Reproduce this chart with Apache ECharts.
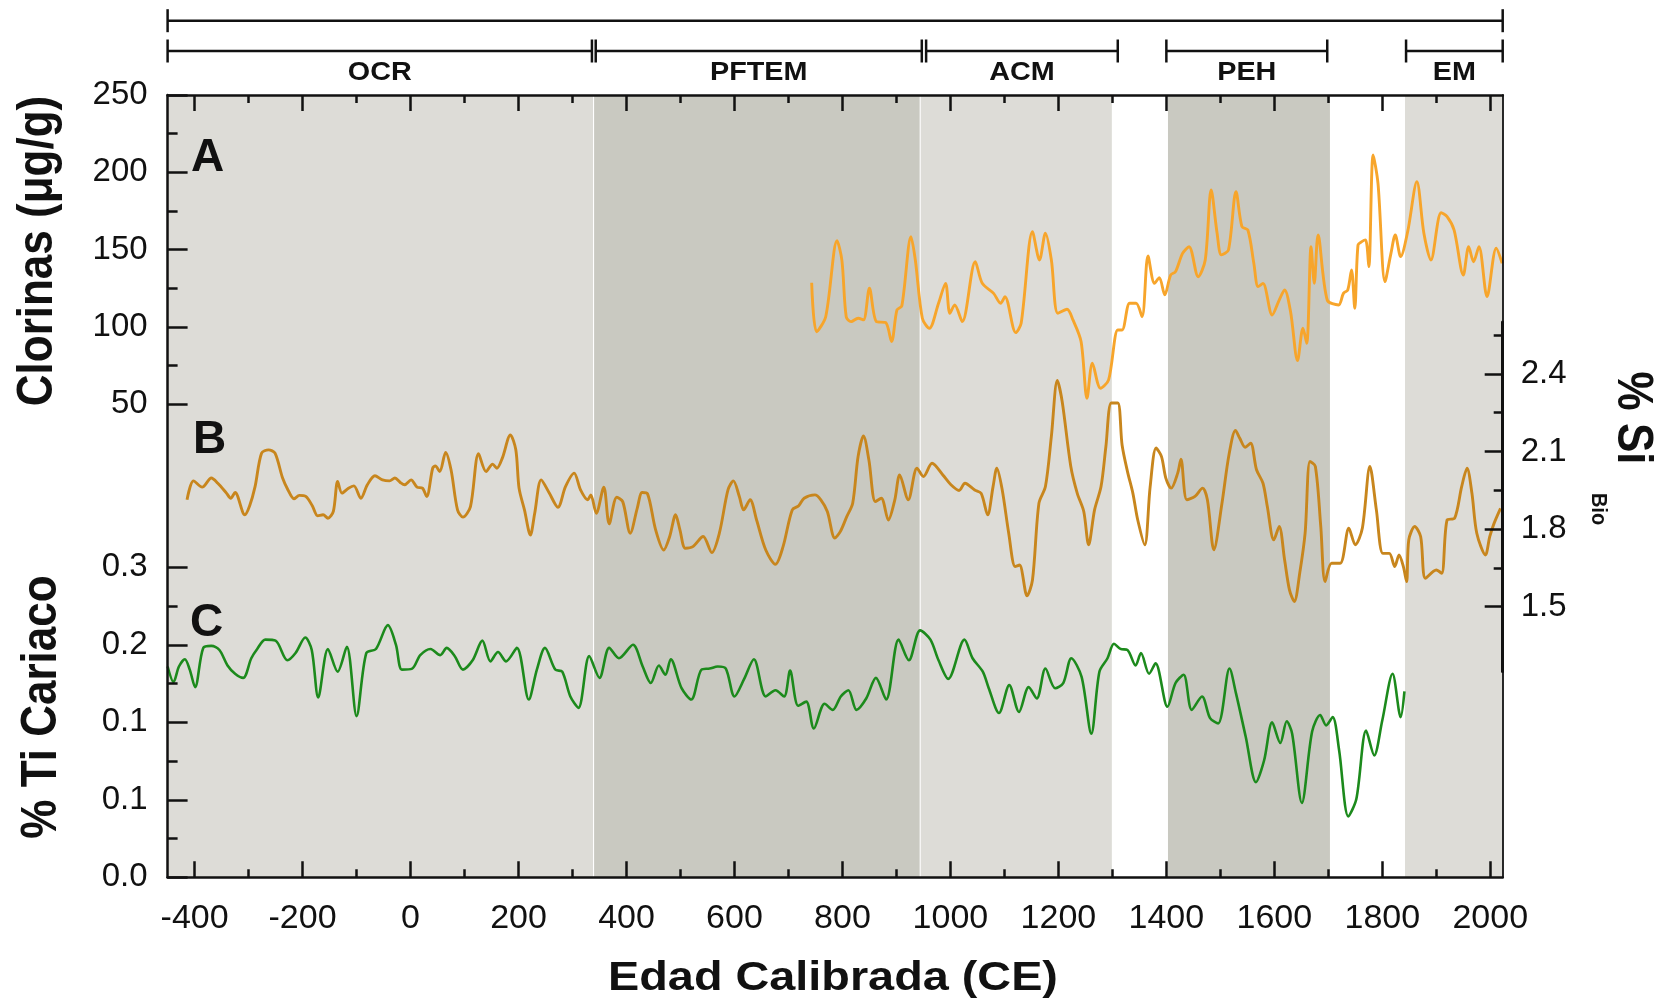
<!DOCTYPE html>
<html><head><meta charset="utf-8">
<script src="https://cdn.jsdelivr.net/npm/echarts@6/dist/echarts.min.js"></script>
<style>html,body{margin:0;padding:0;background:#fff}#c{width:1658px;height:1005px}</style>
</head><body><div id="c"></div><script>
// ---------- DATA ----------
const xMajorTicks = [-400,-200,0,200,400,600,800,1000,1200,1400,1600,1800,2000];
const xMinorTicks = [-300,-100,100,300,500,700,900,1100,1300,1500,1700,1900];
const siMajorTicks = [1.5,1.8,2.1,2.4];
const siMinorTicks = [1.65,1.95,2.25,2.55];
const tiTickLabels = ['0.0','0.1','0.1','0.2','0.3'];

const periodNames = ['OCR','PFTEM','ACM','PEH','EM'];
const periodStart = [-450, 343, 955, 1400, 1844];
const periodEnd   = [336, 947, 1310, 1698, 2023];
const bandStart = [-450, 340, 945, 1403, 1842];
const bandEnd   = [338, 943, 1299, 1703, 2023];
const bandShade = [0, 1, 0, 1, 0];

// A: Clorinas (ug/g)
const chlYears = [743,752,769,790,799,807,816,829,839,850,
  863,880,891,901,910,927,935,948,961,978,
  991,999,1008,1022,1046,1059,1080,1093,1101,1121,
  1131,1152,1165,1176,1187,1199,1216,1227,1242,1253,
  1263,1278,1293,1310,1318,1332,1344,1355,1366,1378,
  1387,1397,1408,1417,1430,1442,1459,1472,1483,1494,
  1502,1515,1529,1540,1551,1562,1570,1579,1596,1609,
  1619,1630,1643,1653,1660,1668,1674,1681,1698,1719,
  1728,1736,1743,1749,1755,1762,1769,1775,1783,1792,
  1805,1816,1824,1834,1847,1864,1877,1890,1909,1920,
  1933,1950,1960,1969,1979,1994,2011,2022];
const chlValues = [128.5,96.8,106.5,155.7,143,106.5,103.3,105.5,104.5,124.9,
  103.3,102.7,90.4,110.9,113.5,158.3,143.2,105.5,99,115.2,
  128.1,108.7,114.1,103.3,142.1,128.1,121.6,115.2,119.5,96.2,
  102.2,161.6,143.2,160.5,143.2,108.7,111.3,104.4,90.4,53.7,
  76.4,60.2,65.6,97.9,97.9,115.2,115.2,106.5,145.8,128.1,
  131.8,120.6,133.5,135.7,147.5,151.8,132.4,143.2,188.5,160.5,
  146.5,149.7,187.4,164.8,162.6,141.1,126,128.1,107.6,117.3,
  123.8,109.8,78.1,99,89.3,151.8,128.1,159.4,117.3,114.1,
  121.6,123.8,136.7,112,152.9,155.1,156.2,138.9,211.2,192.8,
  129.2,147.5,159.4,145.4,161.6,193.9,160.5,143.2,173.8,171.3,
  162.6,133.5,151.8,142.1,151.8,119.5,150.8,141.1];

// B: % Si Bio
const siYears = [-414,-402,-386,-369,-357,-341,-333,-325,-307,-298,
  -288,-276,-263,-251,-237,-227,-216,-206,-194,-182,
  -172,-162,-153,-143,-135,-127,-115,-105,-92,-80,
  -66,-52,-39,-29,-19,-11,1,12,22,30,
  41,46,54,65,75,87,97,111,126,140,
  152,160,170,185,195,201,211,222,230,242,
  257,273,287,303,315,328,334,344,358,368,
  382,393,407,420,429,439,454,469,480,491,
  499,509,523,542,558,572,588,598,609,617,
  629,641,658,676,690,707,719,729,749,760,
  772,786,796,808,819,829,839,849,861,872,
  885,897,906,922,938,950,966,986,1001,1016,
  1027,1045,1057,1069,1079,1086,1096,1108,1120,1128,
  1142,1152,1164,1176,1187,1198,1207,1223,1235,1247,
  1256,1267,1279,1288,1298,1310,1318,1328,1338,1347,
  1360,1370,1381,1391,1399,1409,1421,1427,1438,1453,
  1467,1476,1488,1503,1516,1528,1536,1546,1556,1567,
  1579,1587,1599,1609,1619,1628,1637,1647,1657,1666,
  1676,1686,1694,1706,1722,1738,1750,1763,1777,1789,
  1801,1813,1823,1831,1839,1845,1849,1860,1871,1880,
  1900,1910,1920,1934,1947,1957,1966,1975,1991,1999,
  2007,2019];
const siValues = [1.913,1.986,1.962,1.997,1.977,1.939,1.919,1.941,1.855,1.89,
  1.964,2.093,2.106,2.093,1.997,1.951,1.917,1.93,1.926,1.89,
  1.851,1.855,1.842,1.868,1.984,1.939,1.958,1.967,1.919,1.971,
  2.006,1.99,1.986,1.997,1.98,1.971,1.99,1.962,1.958,1.926,
  2.035,2.044,2.022,2.096,2.029,1.874,1.846,1.887,2.091,2.022,
  2.051,2.035,2.074,2.164,2.106,1.958,1.874,1.777,1.861,1.99,
  1.939,1.884,1.964,2.016,1.951,1.913,1.932,1.861,1.962,1.82,
  1.923,1.906,1.784,1.881,1.941,1.936,1.797,1.719,1.771,1.855,
  1.797,1.726,1.732,1.771,1.709,1.784,1.951,1.986,1.926,1.874,
  1.913,1.835,1.719,1.664,1.732,1.874,1.89,1.919,1.932,1.913,
  1.868,1.765,1.79,1.848,1.9,2.08,2.16,2.067,1.906,1.919,
  1.835,1.913,2.009,1.913,2.035,2.003,2.054,2.009,1.971,1.949,
  1.977,1.951,1.938,1.855,1.964,2.035,1.951,1.784,1.655,1.661,
  1.542,1.603,1.9,1.964,2.158,2.374,2.293,2.042,1.938,1.868,
  1.739,1.874,1.964,2.119,2.287,2.287,2.125,2.022,1.938,1.835,
  1.739,1.964,2.113,2.08,1.997,1.958,2.016,2.07,1.913,1.926,
  1.958,1.913,1.72,1.9,2.087,2.181,2.151,2.116,2.132,2.029,
  1.977,1.887,1.758,1.81,1.681,1.565,1.52,1.629,1.784,2.061,
  2.042,1.81,1.597,1.668,1.668,1.803,1.739,1.803,2.042,1.874,
  1.706,1.706,1.655,1.7,1.655,1.597,1.758,1.81,1.771,1.61,
  1.642,1.629,1.835,1.842,1.964,2.035,1.938,1.784,1.7,1.771,
  1.822,1.88];

// C: % Ti Cariaco
const tiYears = [-450,-439,-429,-418,-409,-399,-384,-369,-354,-339,
  -325,-310,-295,-284,-269,-250,-228,-213,-195,-183,
  -171,-153,-135,-118,-100,-82,-64,-42,-27,-16,
  3,18,37,55,67,82,97,115,133,148,
  162,177,197,219,234,249,268,281,296,311,
  331,350,368,386,412,430,445,460,472,482,
  502,520,539,554,569,584,600,618,636,658,
  676,692,703,718,733,747,767,782,797,811,
  826,844,862,881,904,923,944,963,978,996,
  1026,1041,1060,1071,1090,1109,1127,1145,1160,1176,
  1194,1209,1224,1243,1261,1276,1291,1303,1315,1328,
  1343,1353,1368,1380,1402,1417,1432,1447,1466,1481,
  1496,1517,1529,1547,1566,1581,1596,1611,1623,1633,
  1651,1670,1685,1696,1708,1720,1737,1752,1770,1785,
  1800,1819,1834,1841];
const tiValues = [0.204,0.189,0.204,0.211,0.201,0.184,0.222,0.224,0.22,0.205,
  0.197,0.193,0.212,0.221,0.23,0.229,0.21,0.217,0.232,0.22,
  0.174,0.221,0.199,0.223,0.156,0.217,0.221,0.244,0.225,0.201,
  0.202,0.215,0.221,0.215,0.222,0.214,0.201,0.21,0.229,0.209,
  0.218,0.209,0.222,0.172,0.201,0.222,0.201,0.199,0.175,0.164,
  0.214,0.193,0.222,0.212,0.225,0.204,0.188,0.205,0.196,0.211,
  0.183,0.172,0.201,0.202,0.204,0.202,0.175,0.192,0.211,0.175,
  0.181,0.175,0.2,0.166,0.17,0.144,0.168,0.162,0.175,0.181,
  0.162,0.173,0.193,0.172,0.23,0.21,0.239,0.23,0.21,0.192,
  0.23,0.212,0.199,0.183,0.159,0.186,0.16,0.184,0.173,0.202,
  0.183,0.188,0.212,0.194,0.139,0.199,0.212,0.226,0.221,0.22,
  0.205,0.217,0.197,0.207,0.165,0.188,0.196,0.162,0.175,0.154,
  0.149,0.202,0.178,0.136,0.092,0.113,0.15,0.13,0.151,0.139,
  0.072,0.141,0.157,0.147,0.155,0.123,0.059,0.076,0.142,0.118,
  0.152,0.197,0.155,0.18];

// ---------- CHART ----------
const X_MIN = -450, X_MAX = 2023;
const FONT = '"Liberation Sans", Arial, Helvetica, sans-serif';
const BLACK = '#111';
const bandColors = ['#dddcd7', '#c9c9c1'];
const pairs = (xs, ys) => xs.map((x, i) => [x, ys[i]]);

const L = 167.6, R = 155.3;
const grids = [
  {left: L, right: R, top: 95, bottom: 127.7},      // 0 frame
  {left: L, right: R, top: 95, bottom: 601},        // 1 clorinas 50..250
  {left: L, right: R, top: 322, bottom: 333.6},     // 2 Si 1.25..2.6
  {left: L, right: R, top: 567.3, bottom: 127.7},   // 3 Ti 0..0.3
  {left: L, right: R, top: 0, bottom: 910}          // 4 brackets
];

const axLine = (w) => ({show: true, onZero: false, lineStyle: {color: BLACK, width: w}});
const noLine = {show: false, onZero: false};
const hiddenX = (g) => ({type: 'value', gridIndex: g, min: X_MIN, max: X_MAX, show: false, axisLine: noLine, splitLine: {show: false}});

const xAxes = [
  {type: 'value', gridIndex: 0, position: 'bottom', min: X_MIN, max: X_MAX, z: 10,
    axisLine: axLine(2.5),
    axisTick: {show: true, inside: true, length: 16, customValues: xMajorTicks, lineStyle: {color: BLACK, width: 2.5}},
    axisLabel: {show: true, customValues: xMajorTicks, margin: 24, fontSize: 34, fontFamily: FONT, color: BLACK,
      formatter: v => String(v)},
    splitLine: {show: false}},
  {type: 'value', gridIndex: 0, position: 'bottom', min: X_MIN, max: X_MAX, z: 10,
    axisLine: noLine,
    axisTick: {show: true, inside: true, length: 8, customValues: xMinorTicks, lineStyle: {color: BLACK, width: 2.5}},
    axisLabel: {show: false}, splitLine: {show: false}},
  {type: 'value', gridIndex: 0, position: 'top', min: X_MIN, max: X_MAX, z: 10,
    axisLine: axLine(2.5),
    axisTick: {show: true, inside: true, length: 16, customValues: xMajorTicks, lineStyle: {color: BLACK, width: 2.5}},
    axisLabel: {show: false}, splitLine: {show: false}},
  {type: 'value', gridIndex: 0, position: 'top', min: X_MIN, max: X_MAX, z: 10,
    axisLine: noLine,
    axisTick: {show: true, inside: true, length: 8, customValues: xMinorTicks, lineStyle: {color: BLACK, width: 2.5}},
    axisLabel: {show: false}, splitLine: {show: false}},
  hiddenX(1), hiddenX(2), hiddenX(3), hiddenX(4)
];

const yAxes = [
  // 0 frame left line
  {type: 'value', gridIndex: 0, position: 'left', min: 0, max: 1, z: 10,
    axisLine: axLine(2.5), axisTick: {show: false}, axisLabel: {show: false}, splitLine: {show: false}},
  // 1 frame right line
  {type: 'value', gridIndex: 0, position: 'right', min: 0, max: 1, z: 10,
    axisLine: axLine(1.8), axisTick: {show: false}, axisLabel: {show: false}, splitLine: {show: false}},
  // 2 clorinas
  {type: 'value', gridIndex: 1, position: 'left', min: 50, max: 250, interval: 50, z: 10,
    axisLine: noLine,
    axisTick: {show: true, inside: true, length: 20, lineStyle: {color: BLACK, width: 2.5}},
    minorTick: {show: true, splitNumber: 2, length: 10, lineStyle: {color: BLACK, width: 2.5}},
    axisLabel: {show: true, margin: 20, fontSize: 33, fontFamily: FONT, color: BLACK},
    splitLine: {show: false}, minorSplitLine: {show: false}},
  // 3 Si major
  {type: 'value', gridIndex: 2, position: 'right', min: 1.25, max: 2.6, z: 10,
    axisLine: axLine(3),
    axisTick: {show: true, inside: true, length: 18, customValues: siMajorTicks, lineStyle: {color: BLACK, width: 2.5}},
    axisLabel: {show: true, customValues: siMajorTicks, margin: 18, fontSize: 33, fontFamily: FONT, color: BLACK,
      formatter: v => Number(v).toFixed(1)},
    splitLine: {show: false}},
  // 4 Si minor
  {type: 'value', gridIndex: 2, position: 'right', min: 1.25, max: 2.6, z: 10,
    axisLine: noLine,
    axisTick: {show: true, inside: true, length: 9, customValues: siMinorTicks, lineStyle: {color: BLACK, width: 2.5}},
    axisLabel: {show: false}, splitLine: {show: false}},
  // 5 Ti
  {type: 'value', gridIndex: 3, position: 'left', min: 0, max: 0.3, interval: 0.075, z: 10,
    axisLine: noLine,
    axisTick: {show: true, inside: true, length: 20, lineStyle: {color: BLACK, width: 2.5}},
    minorTick: {show: true, splitNumber: 2, length: 10, lineStyle: {color: BLACK, width: 2.5}},
    axisLabel: {show: true, margin: 20, fontSize: 33, fontFamily: FONT, color: BLACK,
      formatter: v => tiTickLabels[Math.round(v / 0.075)]},
    splitLine: {show: false}, minorSplitLine: {show: false}},
  // 6 brackets
  {type: 'value', gridIndex: 4, min: 0, max: 1, show: false, axisLine: noLine, splitLine: {show: false}}
];

function renderBand(params, api) {
  const p1 = api.coord([api.value(0), 1]);
  const p2 = api.coord([api.value(1), 0]);
  return {type: 'rect', shape: {x: p1[0], y: p1[1], width: p2[0] - p1[0], height: p2[1] - p1[1]},
    style: {fill: bandColors[api.value(2)]}};
}

function makeBracketRenderer(rowY, labels) {
  return function (params, api) {
    const x1 = api.coord([api.value(0), 0])[0];
    const x2 = api.coord([api.value(1), 0])[0];
    const h = 11.5;
    const ls = {stroke: BLACK, lineWidth: 2.5};
    const children = [
      {type: 'line', shape: {x1: x1, y1: rowY, x2: x2, y2: rowY}, style: ls},
      {type: 'line', shape: {x1: x1, y1: rowY - h, x2: x1, y2: rowY + h}, style: ls},
      {type: 'line', shape: {x1: x2, y1: rowY - h, x2: x2, y2: rowY + h}, style: ls}
    ];
    if (labels) {
      children.push({type: 'text', x: (x1 + x2) / 2, y: 73, scaleX: 1.15,
        style: {text: labels[params.dataIndex], fill: BLACK, font: 'bold 25px ' + FONT,
          textAlign: 'center', textVerticalAlign: 'middle'}});
    }
    return {type: 'group', children: children};
  };
}

const lineSeries = (name, xi, yi, data, color, w) => ({
  name: name, type: 'line', xAxisIndex: xi, yAxisIndex: yi, data: data,
  showSymbol: false, smooth: 0.3, z: 5,
  lineStyle: {color: color, width: w}, itemStyle: {color: color}
});

const option = {
  animation: false,
  backgroundColor: '#ffffff',
  grid: grids,
  xAxis: xAxes,
  yAxis: yAxes,
  series: [
    {type: 'custom', xAxisIndex: 0, yAxisIndex: 0, z: 1, clip: false, silent: true,
      data: bandStart.map((s, i) => [s, bandEnd[i], bandShade[i]]), renderItem: renderBand},
    {type: 'custom', xAxisIndex: 7, yAxisIndex: 6, z: 5, clip: false, silent: true,
      data: [[X_MIN, X_MAX]], renderItem: makeBracketRenderer(20.7, null)},
    {type: 'custom', xAxisIndex: 7, yAxisIndex: 6, z: 5, clip: false, silent: true,
      data: periodStart.map((s, i) => [s, periodEnd[i]]), renderItem: makeBracketRenderer(51, periodNames)},
    lineSeries('Clorinas', 4, 2, pairs(chlYears, chlValues), '#f7a52b', 2.9),
    lineSeries('Si Bio', 5, 3, pairs(siYears, siValues), '#c8861d', 2.9),
    lineSeries('Ti Cariaco', 6, 5, pairs(tiYears, tiValues), '#1c8a1c', 2.6)
  ],
  graphic: [
    {type: 'text', x: 38, y: 251, rotation: Math.PI / 2, scaleY: 1.15, z: 20,
      style: {text: 'Clorinas (μg/g)', font: 'bold 44px ' + FONT, fill: BLACK, textAlign: 'center', textVerticalAlign: 'middle'}},
    {type: 'text', x: 42, y: 707, rotation: Math.PI / 2, scaleY: 1.15, z: 20,
      style: {text: '% Ti Cariaco', font: 'bold 44px ' + FONT, fill: BLACK, textAlign: 'center', textVerticalAlign: 'middle'}},
    {type: 'text', x: 1632, y: 418, rotation: -Math.PI / 2, scaleY: 1.15, z: 20,
      style: {text: '% Si', font: 'bold 44px ' + FONT, fill: BLACK, textAlign: 'center', textVerticalAlign: 'middle'}},
    {type: 'text', x: 1598, y: 509, rotation: -Math.PI / 2, scaleY: 1.1, z: 20,
      style: {text: 'Bio', font: 'bold 20px ' + FONT, fill: BLACK, textAlign: 'center', textVerticalAlign: 'middle'}},
    {type: 'text', x: 833, y: 979, scaleX: 1.17, z: 20,
      style: {text: 'Edad Calibrada (CE)', font: 'bold 40px ' + FONT, fill: BLACK, textAlign: 'center', textVerticalAlign: 'middle'}},
    {type: 'text', x: 191, y: 158, z: 20,
      style: {text: 'A', font: 'bold 46px ' + FONT, fill: BLACK, textAlign: 'left', textVerticalAlign: 'middle'}},
    {type: 'text', x: 193, y: 440, z: 20,
      style: {text: 'B', font: 'bold 46px ' + FONT, fill: BLACK, textAlign: 'left', textVerticalAlign: 'middle'}},
    {type: 'text', x: 190, y: 623, z: 20,
      style: {text: 'C', font: 'bold 46px ' + FONT, fill: BLACK, textAlign: 'left', textVerticalAlign: 'middle'}}
  ]
};

const chart = echarts.init(document.getElementById('c'), null, {renderer: 'canvas'});
chart.setOption(option);
</script></body></html>
